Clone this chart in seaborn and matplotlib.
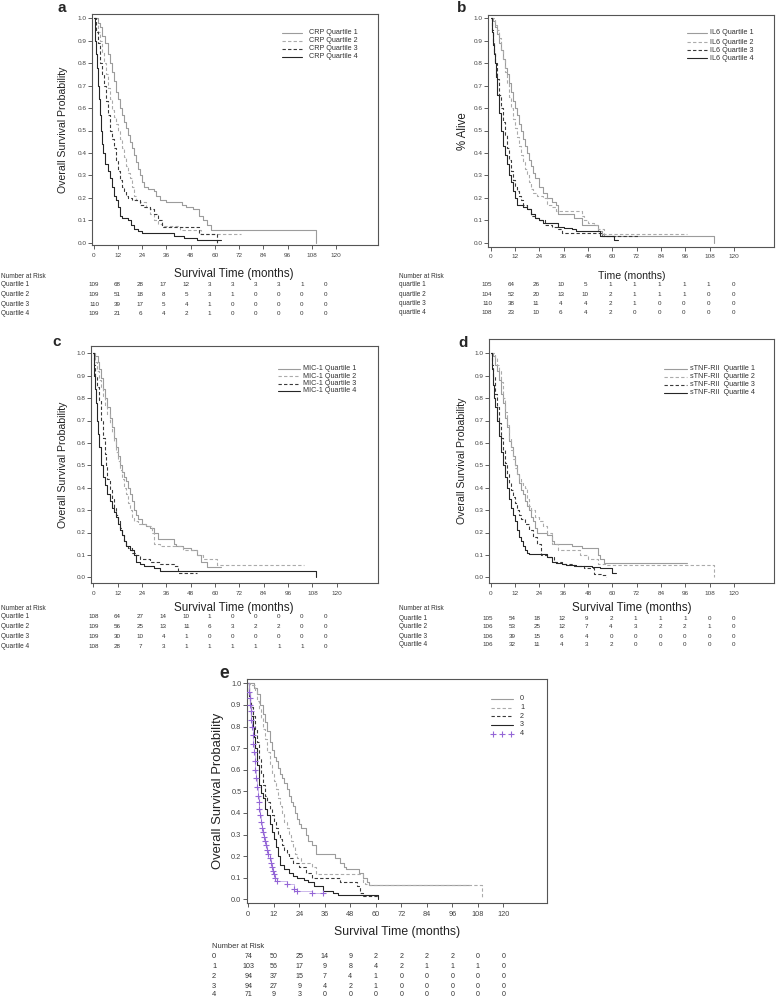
import pandas as pd
import matplotlib.pyplot as plt
import seaborn as sns
from matplotlib.lines import Line2D

sns.set_style('ticks')
plt.rcParams['font.family'] = ['Liberation Sans', 'DejaVu Sans']

W, H = 776, 999

# ---- data: Kaplan-Meier steps (months, survival) ----
# a: CRP
crp_q1_t = [0, 2, 3, 4, 5.5, 7, 8, 9, 10, 11, 12, 13, 14, 15, 16, 17, 18, 19, 20, 21, 22, 23, 24, 25, 27, 30, 31, 33, 36, 44, 46, 49, 52, 54, 56, 58, 110]
crp_q1_s = [1.0, 0.98, 0.96, 0.92, 0.89, 0.84, 0.80, 0.76, 0.72, 0.67, 0.64, 0.60, 0.57, 0.54, 0.51, 0.48, 0.45, 0.42, 0.39, 0.36, 0.33, 0.30, 0.27, 0.25, 0.24, 0.23, 0.21, 0.19, 0.18, 0.17, 0.16, 0.15, 0.12, 0.10, 0.08, 0.055, 0.0]
crp_q2_t = [0, 1, 2, 3, 4, 5, 6, 7, 8, 9, 10, 11, 12, 13, 14, 15, 16, 17, 18, 19, 20, 21, 23, 26, 28, 30, 32, 34, 43, 53, 73]
crp_q2_s = [1.0, 0.97, 0.94, 0.90, 0.85, 0.80, 0.75, 0.69, 0.64, 0.59, 0.56, 0.53, 0.50, 0.46, 0.42, 0.38, 0.34, 0.31, 0.29, 0.25, 0.21, 0.19, 0.18, 0.16, 0.13, 0.10, 0.085, 0.075, 0.055, 0.04, 0.04]
crp_q3_t = [0, 1, 2, 3, 4, 5, 6, 7, 8, 9, 10, 11, 12, 13, 14, 15, 16, 17, 19, 23, 25, 28, 30, 32, 34, 52, 61]
crp_q3_s = [1.0, 0.94, 0.89, 0.80, 0.75, 0.70, 0.63, 0.57, 0.50, 0.46, 0.42, 0.37, 0.32, 0.28, 0.25, 0.23, 0.21, 0.20, 0.19, 0.17, 0.16, 0.15, 0.13, 0.10, 0.07, 0.04, 0.0]
crp_q4_t = [0, 0.5, 1, 1.5, 2, 2.5, 3, 3.5, 4, 4.5, 5.5, 7, 8, 9, 10, 11, 12, 13, 14, 17, 18.5, 20, 22, 24, 40, 45, 51, 63]
crp_q4_s = [1.0, 0.90, 0.84, 0.78, 0.70, 0.64, 0.57, 0.50, 0.44, 0.40, 0.35, 0.32, 0.29, 0.25, 0.21, 0.19, 0.16, 0.12, 0.11, 0.10, 0.08, 0.06, 0.05, 0.045, 0.03, 0.02, 0.01, 0.01]

# b: IL6
il6_q1_t = [0, 1, 2, 3, 4, 5, 6, 7, 8, 9, 10, 11, 12, 13, 14, 15, 16, 17, 18, 19, 20, 21, 22, 24, 26, 28, 30, 32, 33, 41, 45, 53, 55, 56, 110]
il6_q1_s = [1.0, 0.99, 0.96, 0.93, 0.89, 0.86, 0.82, 0.78, 0.75, 0.71, 0.67, 0.63, 0.60, 0.57, 0.53, 0.50, 0.46, 0.43, 0.40, 0.37, 0.34, 0.31, 0.29, 0.25, 0.22, 0.20, 0.18, 0.17, 0.13, 0.11, 0.08, 0.05, 0.04, 0.03, 0.0]
il6_q2_t = [0, 2, 3, 4, 5, 6, 7, 8, 9, 10, 11, 12, 13, 14, 15, 16, 17, 18, 19, 20, 21, 23, 26, 28, 30, 32, 45, 46, 48, 51, 53, 56, 97]
il6_q2_s = [1.0, 0.97, 0.95, 0.91, 0.86, 0.82, 0.76, 0.71, 0.65, 0.60, 0.55, 0.51, 0.47, 0.43, 0.39, 0.36, 0.33, 0.30, 0.27, 0.24, 0.22, 0.21, 0.20, 0.17, 0.16, 0.14, 0.12, 0.10, 0.09, 0.08, 0.06, 0.04, 0.04]
il6_q3_t = [0, 0.5, 1, 1.5, 2, 3, 4, 5, 6, 7, 8, 9, 10, 11, 12, 13, 14, 15, 16, 18, 20, 22, 24, 27, 30, 33, 35, 55, 73]
il6_q3_s = [1.0, 0.95, 0.90, 0.85, 0.80, 0.73, 0.66, 0.60, 0.54, 0.48, 0.42, 0.37, 0.32, 0.28, 0.25, 0.23, 0.21, 0.19, 0.17, 0.15, 0.12, 0.11, 0.10, 0.08, 0.07, 0.06, 0.045, 0.03, 0.03]
il6_q4_t = [0, 0.5, 1, 1.5, 2, 2.5, 3, 4, 5, 6, 7, 8, 9, 10, 11, 12, 13, 16, 18, 20, 22, 24, 26, 33, 36, 40, 42, 54, 61, 63]
il6_q4_s = [1.0, 0.94, 0.88, 0.84, 0.80, 0.74, 0.66, 0.58, 0.50, 0.43, 0.39, 0.35, 0.30, 0.27, 0.23, 0.20, 0.17, 0.16, 0.15, 0.13, 0.11, 0.10, 0.09, 0.07, 0.065, 0.06, 0.05, 0.03, 0.01, 0.01]

# c: MIC-1
mic_q1_t = [0, 1, 2.5, 3, 4, 5, 6, 7, 8, 9, 10, 11, 12, 13, 14, 15, 16, 17, 18, 19, 20, 21, 22, 24, 26, 28, 30, 32, 40, 41, 44, 48, 51, 53, 56, 63]
mic_q1_s = [1.0, 0.99, 0.96, 0.93, 0.89, 0.84, 0.80, 0.76, 0.71, 0.67, 0.62, 0.58, 0.54, 0.50, 0.47, 0.45, 0.43, 0.40, 0.37, 0.34, 0.30, 0.28, 0.26, 0.24, 0.23, 0.22, 0.20, 0.17, 0.15, 0.14, 0.13, 0.12, 0.10, 0.07, 0.045, 0.045]
mic_q2_t = [0, 1, 2, 3, 4, 5, 6, 7, 8, 9, 10, 11, 12, 13, 14, 15, 16, 17, 18, 19, 20, 22, 26, 29, 30, 33, 44, 51, 54, 61, 104]
mic_q2_s = [1.0, 0.96, 0.92, 0.88, 0.85, 0.81, 0.77, 0.73, 0.69, 0.65, 0.61, 0.56, 0.52, 0.48, 0.44, 0.40, 0.37, 0.33, 0.30, 0.27, 0.25, 0.24, 0.23, 0.20, 0.15, 0.14, 0.12, 0.10, 0.08, 0.055, 0.055]
mic_q3_t = [0, 0.5, 1, 2, 3, 4, 5, 6, 6.5, 7, 8, 9, 10, 11, 12, 13, 14, 15, 16, 17, 19, 21, 23, 28, 33, 40, 42, 51]
mic_q3_s = [1.0, 0.95, 0.90, 0.85, 0.79, 0.70, 0.62, 0.55, 0.50, 0.44, 0.39, 0.35, 0.31, 0.28, 0.25, 0.22, 0.19, 0.16, 0.14, 0.13, 0.11, 0.10, 0.08, 0.07, 0.06, 0.05, 0.02, 0.02]
mic_q4_t = [0, 0.5, 1, 1.5, 2, 2.5, 3, 4, 5, 6, 7, 8, 9, 10, 11, 12, 13, 14, 15, 16, 18, 20, 21, 23, 25, 30, 33, 110]
mic_q4_s = [1.0, 0.90, 0.84, 0.78, 0.70, 0.64, 0.58, 0.50, 0.45, 0.41, 0.37, 0.34, 0.31, 0.29, 0.27, 0.24, 0.21, 0.19, 0.16, 0.14, 0.12, 0.10, 0.07, 0.06, 0.05, 0.04, 0.03, 0.0]

# d: sTNF-RII
tnf_q1_t = [0, 1, 2, 3, 4, 5, 6, 7, 8, 9, 10, 11, 12, 13, 14, 15, 16, 17, 18, 19, 20, 21, 22, 23, 28, 30, 31, 40, 45, 53, 54, 56, 97]
tnf_q1_s = [1.0, 0.99, 0.95, 0.92, 0.88, 0.82, 0.78, 0.71, 0.67, 0.61, 0.58, 0.54, 0.50, 0.46, 0.42, 0.39, 0.37, 0.34, 0.32, 0.30, 0.27, 0.25, 0.22, 0.20, 0.19, 0.16, 0.15, 0.14, 0.13, 0.10, 0.08, 0.065, 0.065]
tnf_q2_t = [0, 2, 3, 4, 5, 6, 7, 8, 9, 10, 11, 12, 13, 14, 15, 16, 17, 18, 19, 20, 22, 24, 26, 28, 30, 33, 44, 48, 53, 57, 110]
tnf_q2_s = [1.0, 0.98, 0.95, 0.92, 0.87, 0.80, 0.74, 0.68, 0.62, 0.57, 0.53, 0.49, 0.46, 0.44, 0.42, 0.41, 0.40, 0.35, 0.32, 0.30, 0.27, 0.25, 0.23, 0.20, 0.15, 0.12, 0.10, 0.08, 0.06, 0.055, 0.0]
tnf_q3_t = [0, 0.5, 1, 2, 3, 4, 5, 6, 7, 8, 9, 10, 11, 12, 13, 14, 15, 17, 19, 21, 23, 25, 28, 31, 35, 41, 46, 51, 55, 57]
tnf_q3_s = [1.0, 0.95, 0.90, 0.82, 0.76, 0.69, 0.62, 0.57, 0.51, 0.46, 0.42, 0.39, 0.36, 0.33, 0.30, 0.28, 0.26, 0.24, 0.21, 0.18, 0.15, 0.10, 0.09, 0.07, 0.06, 0.05, 0.04, 0.015, 0.01, 0.0]
tnf_q4_t = [0, 0.5, 1, 1.5, 2, 3, 4, 5, 6, 7, 8, 9, 10, 11, 12, 13, 14, 15, 16, 17, 18, 19, 28, 30, 32, 35, 37, 42, 50, 54, 60, 62]
tnf_q4_s = [1.0, 0.93, 0.86, 0.80, 0.76, 0.70, 0.63, 0.56, 0.50, 0.45, 0.40, 0.35, 0.31, 0.28, 0.25, 0.21, 0.18, 0.16, 0.14, 0.12, 0.11, 0.105, 0.09, 0.07, 0.065, 0.06, 0.055, 0.05, 0.045, 0.04, 0.02, 0.02]

# e: groups 0-4
g0_t = [0, 2.5, 4, 5.5, 7, 8, 9, 10, 11, 12, 13, 14, 15, 16, 17, 18, 19, 20, 21, 22, 23, 24, 25, 27, 28, 30, 32, 41, 43, 45, 46, 52, 54, 56, 57, 104]
g0_s = [1.0, 0.98, 0.95, 0.90, 0.86, 0.82, 0.78, 0.73, 0.69, 0.66, 0.64, 0.61, 0.58, 0.56, 0.54, 0.51, 0.48, 0.45, 0.43, 0.40, 0.37, 0.35, 0.33, 0.30, 0.27, 0.25, 0.21, 0.19, 0.17, 0.15, 0.14, 0.12, 0.10, 0.08, 0.065, 0.065]
g1_t = [0, 1, 3, 4, 5, 6, 7, 8, 9, 10, 11, 12, 13, 14, 15, 16, 17, 18, 19, 20, 21, 22, 23, 25, 30, 32, 54, 55, 57, 110]
g1_s = [1.0, 0.99, 0.97, 0.92, 0.88, 0.84, 0.79, 0.74, 0.68, 0.62, 0.58, 0.55, 0.51, 0.47, 0.43, 0.40, 0.36, 0.33, 0.30, 0.27, 0.24, 0.21, 0.19, 0.17, 0.15, 0.115, 0.08, 0.07, 0.065, 0.0]
g2_t = [0, 0.5, 1, 1.5, 2, 3, 4, 5, 6, 7, 8, 9, 10, 11, 12, 13, 14, 15, 16, 17, 18, 19, 21, 24, 27, 30, 43, 51, 52.5, 54, 61]
g2_s = [1.0, 0.96, 0.92, 0.89, 0.85, 0.79, 0.73, 0.65, 0.58, 0.53, 0.48, 0.45, 0.42, 0.39, 0.36, 0.33, 0.30, 0.28, 0.25, 0.23, 0.21, 0.19, 0.17, 0.15, 0.12, 0.10, 0.08, 0.06, 0.03, 0.015, 0.015]
g3_t = [0, 0.5, 1, 1.5, 2, 2.5, 3, 4, 5, 6, 7, 8, 9, 10, 11, 12, 13, 14, 15, 17, 19, 21, 23, 26, 28, 31, 35, 40, 42, 61]
g3_s = [1.0, 0.94, 0.90, 0.85, 0.80, 0.75, 0.70, 0.62, 0.53, 0.49, 0.47, 0.42, 0.39, 0.35, 0.31, 0.28, 0.24, 0.20, 0.16, 0.14, 0.12, 0.11, 0.10, 0.09, 0.08, 0.06, 0.04, 0.03, 0.02, 0.0]
g4_t = [0, 0.3, 0.6, 0.9, 1.2, 1.5, 1.8, 2.1, 2.4, 2.7, 3.0, 3.3, 3.6, 4.0, 4.4, 4.8, 5.2, 5.6, 6.0, 6.5, 7.0, 7.5, 8.0, 8.5, 9.0, 9.5, 10.0, 10.5, 11.0, 11.5, 12.0, 12.5, 13.5, 18.4, 21.6, 22.7, 29.8, 35]
g4_s = [1.0, 0.96, 0.93, 0.90, 0.87, 0.83, 0.80, 0.76, 0.72, 0.68, 0.64, 0.60, 0.56, 0.52, 0.48, 0.45, 0.42, 0.39, 0.36, 0.33, 0.31, 0.29, 0.27, 0.25, 0.23, 0.21, 0.19, 0.17, 0.15, 0.13, 0.115, 0.10, 0.085, 0.07, 0.05, 0.04, 0.03, 0.03]

# number at risk at 0, 12, ..., 120 months
crp_risk = [[109, 68, 28, 17, 12, 3, 3, 3, 3, 1, 0],
            [109, 51, 18, 8, 5, 3, 1, 0, 0, 0, 0],
            [110, 39, 17, 5, 4, 1, 0, 0, 0, 0, 0],
            [109, 21, 6, 4, 2, 1, 0, 0, 0, 0, 0]]
il6_risk = [[105, 64, 26, 10, 5, 1, 1, 1, 1, 1, 0],
            [104, 52, 20, 13, 10, 2, 1, 1, 1, 0, 0],
            [110, 38, 11, 4, 4, 2, 1, 0, 0, 0, 0],
            [108, 23, 10, 6, 4, 2, 0, 0, 0, 0, 0]]
mic_risk = [[108, 64, 27, 14, 10, 1, 0, 0, 0, 0, 0],
            [109, 56, 25, 13, 11, 6, 3, 2, 2, 0, 0],
            [109, 30, 10, 4, 1, 0, 0, 0, 0, 0, 0],
            [108, 28, 7, 3, 1, 1, 1, 1, 1, 1, 0]]
tnf_risk = [[105, 54, 18, 12, 9, 2, 1, 1, 1, 0, 0],
            [106, 53, 25, 12, 7, 4, 3, 2, 2, 1, 0],
            [106, 39, 15, 6, 4, 0, 0, 0, 0, 0, 0],
            [106, 32, 11, 4, 3, 2, 0, 0, 0, 0, 0]]
grp_risk = [[74, 50, 25, 14, 9, 2, 2, 2, 2, 0, 0],
            [103, 56, 17, 9, 8, 4, 2, 1, 1, 1, 0],
            [94, 37, 15, 7, 4, 1, 0, 0, 0, 0, 0],
            [94, 27, 9, 4, 2, 1, 0, 0, 0, 0, 0],
            [71, 9, 3, 0, 0, 0, 0, 0, 0, 0, 0]]

quartiles = ['Quartile 1', 'Quartile 2', 'Quartile 3', 'Quartile 4']
groups = ['0', '1', '2', '3', '4']
xticks = list(range(0, 121, 12))

# line styles: Q1 light solid, Q2 light dashed, Q3 dark dashed, Q4 dark solid
styles = [('#9c9c9c', '-'), ('#ababab', (0, (3, 2))), ('#3a3a3a', (0, (3, 2))), ('#262626', '-')]
PURPLE = '#9466d6'

fig = plt.figure(figsize=(W / 100, H / 100), dpi=100)


def txt(x, y, s, size, **kw):
    fig.text(x / W, 1 - y / H, s, fontsize=size, **kw)


panels = [
    dict(letter='a', letter_xy=(62, 8), rect=(92, 14, 378, 245), xpx=(93.5, 336), ypx=(18.3, 242.7),
         curves=[(crp_q1_t, crp_q1_s), (crp_q2_t, crp_q2_s), (crp_q3_t, crp_q3_s), (crp_q4_t, crp_q4_s)],
         ylabel='Overall Survival Probability', ylab_x=63, ylab_fs=7.6,
         xlabel='Survival Time (months)', xlab_xy=(234, 274), xlab_fs=8.4,
         leg=(282, 302, 309, [33, 41, 49, 57]), leg_labels=['CRP Quartile %d' % i for i in range(1, 5)],
         head=(1, 276), rows=[285, 294.5, 304, 313.5], names=quartiles, risk=crp_risk, x0=94, dx=23.1, fs=1.0),
    dict(letter='b', letter_xy=(462, 8), rect=(488, 15, 774, 246.5), xpx=(490.7, 734), ypx=(18.3, 242.7),
         curves=[(il6_q1_t, il6_q1_s), (il6_q2_t, il6_q2_s), (il6_q3_t, il6_q3_s), (il6_q4_t, il6_q4_s)],
         ylabel='% Alive', ylab_x=463, ylab_fs=8.3,
         xlabel='Time (months)', xlab_xy=(632, 276), xlab_fs=7.6,
         leg=(687, 707, 710, [33, 42, 50, 58]), leg_labels=['IL6 Quartile %d' % i for i in range(1, 5)],
         head=(399, 276), rows=[285, 294.5, 303.5, 313], names=[q.lower() for q in quartiles], risk=il6_risk,
         x0=487, dx=24.6, fs=1.0),
    dict(letter='c', letter_xy=(57, 342), rect=(91, 346, 378, 583), xpx=(93.3, 336.7), ypx=(353.3, 577.3),
         curves=[(mic_q1_t, mic_q1_s), (mic_q2_t, mic_q2_s), (mic_q3_t, mic_q3_s), (mic_q4_t, mic_q4_s)],
         ylabel='Overall Survival Probability', ylab_x=63, ylab_fs=7.6,
         xlabel='Survival Time (months)', xlab_xy=(234, 608), xlab_fs=8.4,
         leg=(278, 300, 303, [369, 376, 383.5, 390.5]), leg_labels=['MIC-1 Quartile %d' % i for i in range(1, 5)],
         head=(1, 608), rows=[617, 627, 636.5, 646], names=quartiles, risk=mic_risk, x0=94, dx=23.1, fs=1.0),
    dict(letter='d', letter_xy=(463, 343), rect=(489, 339, 774, 583), xpx=(490.7, 734), ypx=(353.3, 577.3),
         curves=[(tnf_q1_t, tnf_q1_s), (tnf_q2_t, tnf_q2_s), (tnf_q3_t, tnf_q3_s), (tnf_q4_t, tnf_q4_s)],
         ylabel='Overall Survival Probability', ylab_x=462, ylab_fs=7.6,
         xlabel='Survival Time (months)', xlab_xy=(632, 608), xlab_fs=8.4,
         leg=(664, 687, 690, [369, 377, 385, 393]), leg_labels=['sTNF-RII  Quartile %d' % i for i in range(1, 5)],
         head=(399, 609), rows=[618, 627, 636, 645], names=quartiles, risk=tnf_risk, x0=488, dx=24.6, fs=1.0),
    dict(letter='e', letter_xy=(224, 674), rect=(247, 679, 547, 903), xpx=(248.3, 503.3), ypx=(683.3, 899.3),
         curves=[(g0_t, g0_s), (g1_t, g1_s), (g2_t, g2_s), (g3_t, g3_s), (g4_t, g4_s)],
         ylabel='Overall Survival Probability', ylab_x=218, ylab_fs=9.4,
         xlabel='Survival Time (months)', xlab_xy=(397, 932), xlab_fs=8.8,
         leg=(491, 513, 520, [699, 707.5, 716, 725, 733.5]), leg_labels=groups,
         head=(212, 947), rows=[957, 966.7, 976.3, 986, 995], names=groups, risk=grp_risk, x0=248.3, dx=25.5, fs=1.15),
]

for p in panels:
    l, t, r, b = p['rect']
    ax = fig.add_axes([l / W, 1 - b / H, (r - l) / W, (b - t) / H])
    xa, xb = p['xpx']
    ya, yb = p['ypx']
    mpp = 120 / (xb - xa)
    ax.set_xlim((l - xa) * mpp, (r - xa) * mpp)
    ax.set_ylim((yb - b) / (yb - ya), (yb - t) / (yb - ya))
    fs = p['fs']

    for i, (tt, ss) in enumerate(p['curves']):
        if i < 4:
            col, ls = styles[i]
            sns.lineplot(x=tt, y=ss, ax=ax, color=col, linestyle=ls, lw=0.8,
                         drawstyle='steps-post', estimator=None, sort=False)
        else:
            sns.lineplot(x=tt, y=ss, ax=ax, color='#c4aee8', lw=0.6,
                         drawstyle='steps-post', estimator=None, sort=False)
            sns.scatterplot(x=tt[1:], y=ss[1:], ax=ax, marker='+', s=16, color=PURPLE, linewidth=0.8, zorder=5)

    ax.set_xticks(xticks)
    ax.set_xticklabels([str(v) for v in xticks])
    ax.set_yticks([i / 10 for i in range(11)])
    ax.set_yticklabels(['%.1f' % (i / 10) for i in range(11)])
    ax.tick_params(direction='out', length=3, width=0.6, labelsize=4.6 * fs, colors='#444')
    ax.tick_params(axis='x', pad=2.5)
    ax.tick_params(axis='y', pad=1)
    ax.set_xlabel('')
    ax.set_ylabel('')
    for sp in ax.spines.values():
        sp.set_visible(True)
        sp.set_linewidth(0.8)
        sp.set_color('#555555')

    # panel letter and axis titles
    txt(*p['letter_xy'], p['letter'], 11 * fs, weight='bold', ha='center', va='center')
    txt(p['ylab_x'], (t + b) / 2, p['ylabel'], p['ylab_fs'], rotation=90, ha='center', va='center', color='#222')
    txt(*p['xlab_xy'], p['xlabel'], p['xlab_fs'], ha='center', va='center', color='#222')

    # legend drawn by hand
    lx0, lx1, tx, lrows = p['leg']
    for i, (lab, y) in enumerate(zip(p['leg_labels'], lrows)):
        if i < 4:
            col, ls = styles[i]
            fig.add_artist(Line2D([lx0 / W, lx1 / W], [1 - y / H] * 2, color=col, linestyle=ls, lw=0.8))
        else:
            for mx in (lx0 + 2, (lx0 + lx1) / 2, lx1 - 2):
                fig.add_artist(Line2D([mx / W], [1 - y / H], marker='+', ms=4, mew=0.8, color=PURPLE, ls='none'))
        txt(tx, y, lab, 5.2, ha='left', va='center', color='#333')

    # number at risk table
    hx, hy = p['head']
    txt(hx, hy, 'Number at Risk', 4.7 * fs, ha='left', va='center', color='#333')
    for name, y, counts in zip(p['names'], p['rows'], p['risk']):
        txt(hx, y, name, 4.7 * fs, ha='left', va='center', color='#333')
        for j, n in enumerate(counts):
            txt(p['x0'] + j * p['dx'], y, str(n), 4.5 * fs, ha='center', va='center', color='#333')

fig.savefig('out.png', dpi=100)
